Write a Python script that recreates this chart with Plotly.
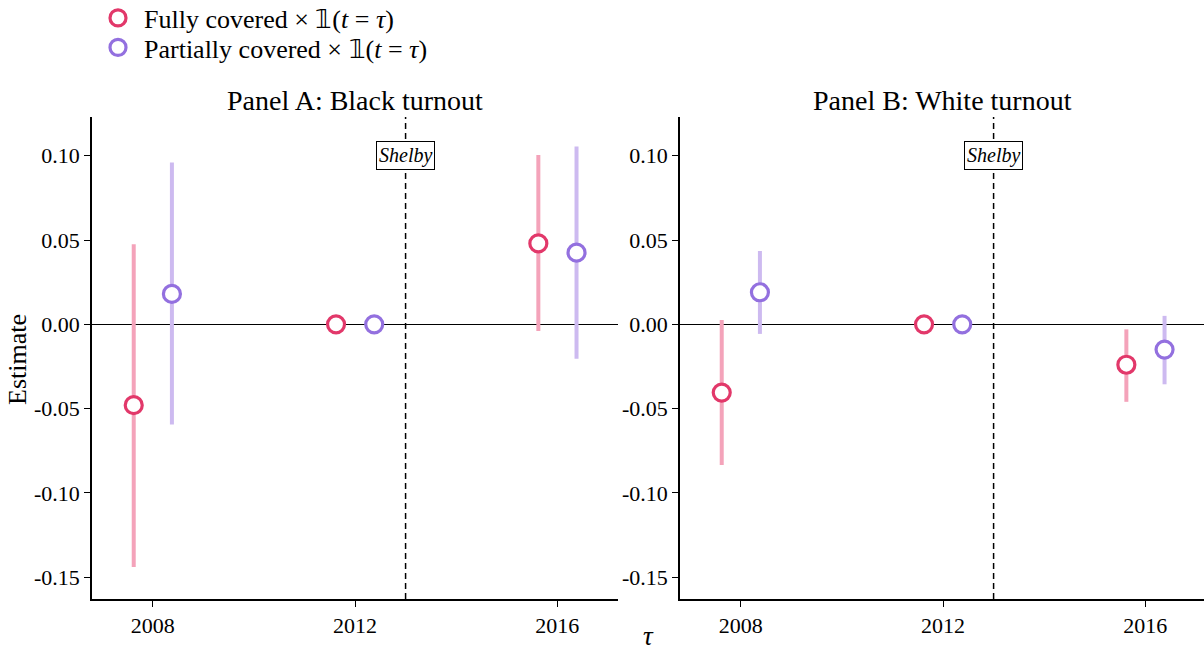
import plotly.graph_objects as go

# ---- data ----
years = [2008, 2012, 2016]
black_full_est = [-0.048, 0.0, 0.048]
black_full_lo = [-0.144, 0.0, -0.004]
black_full_hi = [0.0475, 0.0, 0.1005]
black_part_est = [0.018, 0.0, 0.0425]
black_part_lo = [-0.0595, 0.0, -0.0205]
black_part_hi = [0.096, 0.0, 0.1055]
white_full_est = [-0.0405, 0.0, -0.024]
white_full_lo = [-0.0835, 0.0, -0.046]
white_full_hi = [0.0025, 0.0, -0.003]
white_part_est = [0.019, 0.0, -0.015]
white_part_lo = [-0.0057, 0.0, -0.0356]
white_part_hi = [0.0435, 0.0, 0.005]

y_tickvals = [0.10, 0.05, 0.0, -0.05, -0.10, -0.15]
y_ticktext = ["0.10", "0.05", "0.00", "-0.05", "-0.10", "-0.15"]
x_tickvals = [2008, 2012, 2016]
panel_titles = ["Panel A: Black turnout", "Panel B: White turnout"]
series_names = ["Fully covered × 𝟙(<i>t</i> = <i>τ</i>)", "Partially covered × 𝟙(<i>t</i> = <i>τ</i>)"]
shelby_year = 2013

FONT = "Liberation Serif"
FULL_C, FULL_CI = "#E2386A", "#F4A3BA"
PART_C, PART_CI = "#9370DF", "#CDBAF0"
OFF_F, OFF_P = -0.375, 0.38
W, H = 1204, 655

fig = go.Figure()

panels = [
    (black_full_est, black_full_lo, black_full_hi, black_part_est, black_part_lo, black_part_hi, "x", "y"),
    (white_full_est, white_full_lo, white_full_hi, white_part_est, white_part_lo, white_part_hi, "x2", "y2"),
]

for pi, (fe, fl, fh, pe, pl, ph, xa, ya) in enumerate(panels):
    for si, (est, lo, hi, off, col, cicol, name) in enumerate([
        (fe, fl, fh, OFF_F, FULL_C, FULL_CI, series_names[0]),
        (pe, pl, ph, OFF_P, PART_C, PART_CI, series_names[1]),
    ]):
        xs = [yr + off for yr in years]
        fig.add_trace(go.Scatter(
            x=xs, y=est, mode="markers", xaxis=xa, yaxis=ya,
            name=name, showlegend=(pi == 0),
            legend=("legend" if si == 0 else "legend2"),
            marker=dict(symbol="circle", size=17, color="white",
                        line=dict(color=col, width=3.2)),
            error_y=dict(type="data", symmetric=False,
                         array=[h - e for h, e in zip(hi, est)],
                         arrayminus=[e - l for e, l in zip(est, lo)],
                         color=cicol, thickness=4, width=0),
        ))

axis_common = dict(showline=True, linecolor="black", linewidth=1.5, ticks="outside",
                   ticklen=6, tickcolor="black", tickwidth=1.3, showgrid=False,
                   tickfont=dict(family=FONT, size=22, color="black"), automargin=False)

leg_common = dict(xanchor="left", yanchor="middle", font=dict(family=FONT, size=26, color="black"),
                  bgcolor="rgba(0,0,0,0)", itemwidth=42, borderwidth=0)

fig.update_layout(
    width=W, height=H,
    margin=dict(l=0, r=0, t=0, b=0, autoexpand=False),
    paper_bgcolor="white", plot_bgcolor="white",
    font=dict(family=FONT, color="black"),
    xaxis=dict(domain=[92 / W, 618 / W], range=[2006.8, 2017.2], tickvals=x_tickvals,
               zeroline=False, **axis_common),
    xaxis2=dict(domain=[680 / W, 1.0], range=[2006.8, 2017.16], tickvals=x_tickvals,
                zeroline=False, anchor="y2", **axis_common),
    yaxis=dict(domain=[1 - 599 / H, 1 - 117 / H], range=[-0.163, 0.123], tickvals=y_tickvals,
               ticktext=y_ticktext, zeroline=True, zerolinecolor="black", zerolinewidth=1.3,
               **axis_common),
    yaxis2=dict(domain=[1 - 599 / H, 1 - 117 / H], range=[-0.163, 0.123], tickvals=y_tickvals,
                ticktext=y_ticktext, zeroline=True, zerolinecolor="black", zerolinewidth=1.3,
                anchor="x2", **axis_common),
    legend=dict(x=92 / W, y=1 - 18 / H, **leg_common),
    legend2=dict(x=92 / W, y=1 - 47.5 / H, **leg_common),
    showlegend=True,
)

for xa in ["x", "x2"]:
    fig.add_shape(type="line", xref=xa, yref=("y domain" if xa == "x" else "y2 domain"),
                  x0=shelby_year, x1=shelby_year, y0=0, y1=1,
                  line=dict(color="black", width=1.5, dash="6px,4px"), layer="below")
    fig.add_annotation(x=shelby_year, y=0.10, xref=xa, yref=("y" if xa == "x" else "y2"),
                       text="<i>Shelby</i>", showarrow=False,
                       font=dict(family=FONT, size=20, color="black"),
                       bgcolor="white", bordercolor="black", borderwidth=1, borderpad=2)

for t, xc in zip(panel_titles, [355 / W, 942 / W]):
    fig.add_annotation(x=xc, y=1 - 100 / H, xref="paper", yref="paper", text=t, showarrow=False,
                       xanchor="center", yanchor="middle",
                       font=dict(family=FONT, size=28, color="black"))

fig.add_annotation(x=17 / W, y=1 - 360 / H, xref="paper", yref="paper", text="Estimate",
                   textangle=-90, showarrow=False, xanchor="center", yanchor="middle",
                   font=dict(family=FONT, size=26, color="black"))
fig.add_annotation(x=648 / W, y=1 - 636 / H, xref="paper", yref="paper", text="<i>τ</i>",
                   showarrow=False, xanchor="center", yanchor="middle",
                   font=dict(family=FONT, size=27, color="black"))

fig.write_html("out.html", config={"displayModeBar": False},
               post_script="document.body.style.margin='0';document.body.style.overflow='hidden';")
